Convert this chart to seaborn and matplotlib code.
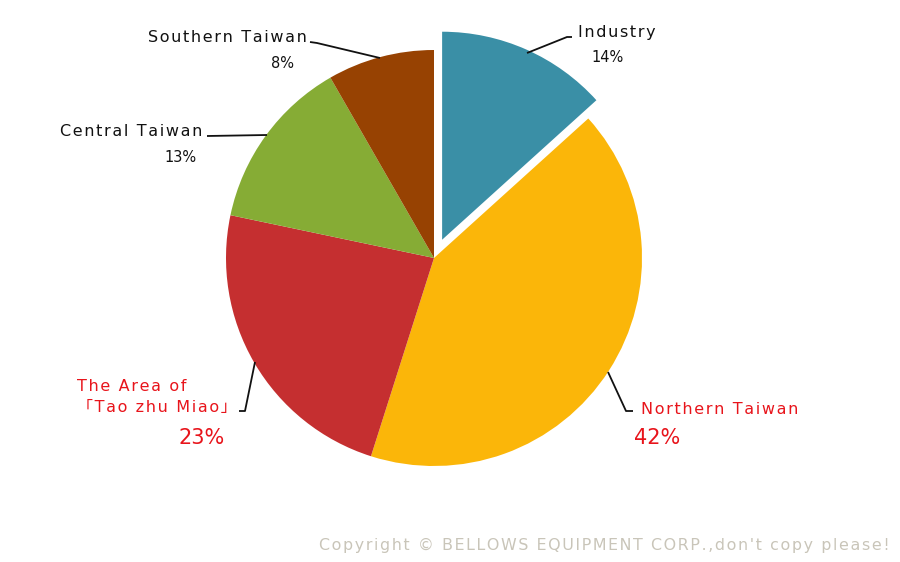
import matplotlib
matplotlib.use('Agg')
import matplotlib.pyplot as plt
import seaborn as sns

# ── data ──────────────────────────────────────────────
regions = ['Industry', 'Northern Taiwan', 'The Area of\n「Tao zhu Miao」',
           'Central Taiwan', 'Southern Taiwan']
shares = [13.3, 41.6, 23.4, 13.4, 8.3]          # slice sizes as drawn
pct_labels = ['14%', '42%', '23%', '13%', '8%']  # printed labels
colors = ['#3A8FA6', '#FBB609', '#C52F30', '#86AC35', '#974202']
explode = [20, 0, 0, 0, 0]   # pixels (pie explode is in data units)
copyright = "Copyright © BELLOWS EQUIPMENT CORP.,don't copy please!"

sns.set_theme(style='white')
plt.rcParams['font.family'] = ['DejaVu Sans', 'Noto Sans CJK JP']

W, H = 900, 562
fig = plt.figure(figsize=(9, 5.62), dpi=100)
ax = fig.add_axes([0, 0, 1, 1])


def py(y):  # picture pixel row -> data y
    return H - y


def spaced(s):  # the original text is letter-spaced
    return '\n'.join('\u200a'.join(line) for line in s.split('\n'))


ax.pie(shares, colors=sns.color_palette(colors), explode=explode,
       startangle=90, counterclock=False, center=(434, py(258)),
       radius=208, frame=True, wedgeprops=dict(linewidth=0))
ax.set_xlim(0, W); ax.set_ylim(0, H)
ax.set_aspect('auto')
ax.axis('off')

black, red = '#111111', '#E8141B'
lw = 1.3

# leader lines (pixel positions of the callouts)
leaders = [
    [(572, 37), (567, 37), (527, 53)],                 # Industry
    [(633, 411), (626, 411), (608, 372)],              # Northern
    [(239, 411), (245, 411), (255, 362)],              # Tao zhu Miao
    [(207, 136), (267, 135)],                          # Central
    [(310, 42), (317, 43), (380, 58)],                 # Southern
]
for pts in leaders:
    ax.plot([p[0] for p in pts], [py(p[1]) for p in pts], color=black, lw=lw,
            solid_capstyle='butt')

fs = 11.5
# names
ax.text(578, py(33), spaced(regions[0]), fontsize=fs, color=black, ha='left', va='center')
ax.text(641, py(409), spaced(regions[1]), fontsize=fs, color=red, ha='left', va='center')
ax.text(77, py(397), spaced(regions[2]), fontsize=fs, color=red, ha='left', va='center',
        multialignment='left', linespacing=1.55)
ax.text(202, py(131), spaced(regions[3]), fontsize=fs, color=black, ha='right', va='center')
ax.text(307, py(37), spaced(regions[4]), fontsize=fs, color=black, ha='right', va='center')

# percentages
ax.text(608, py(58), pct_labels[0], fontsize=10.5, color=black, ha='center', va='center')
ax.text(657, py(438), pct_labels[1], fontsize=15, color=red, ha='center', va='center')
ax.text(202, py(438), pct_labels[2], fontsize=15, color=red, ha='center', va='center')
ax.text(180, py(157), pct_labels[3], fontsize=10.5, color=black, ha='center', va='center')
ax.text(283, py(63), pct_labels[4], fontsize=10.5, color=black, ha='center', va='center')

ax.text(890, py(545), spaced(copyright), fontsize=11.4, color='#C9C5B9',
        ha='right', va='center')

fig.savefig('out.png', dpi=100, facecolor='white')
